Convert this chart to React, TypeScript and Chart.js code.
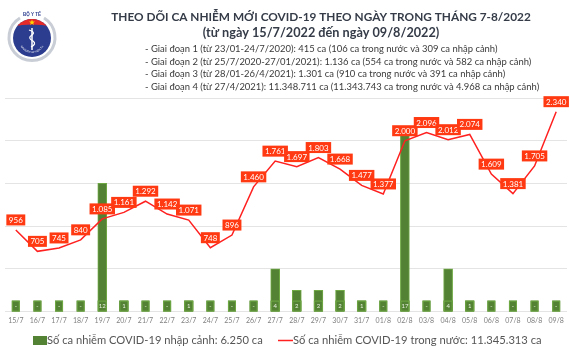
import React, { useEffect, useRef } from "react";
import { Chart, registerables } from "chart.js";

Chart.register(...registerables);

const categories = [
  "15/7", "16/7", "17/7", "18/7", "19/7", "20/7", "21/7", "22/7", "23/7", "24/7",
  "25/7", "26/7", "27/7", "28/7", "29/7", "30/7", "31/7", "01/8", "02/8", "03/8",
  "04/8", "05/8", "06/8", "07/8", "08/8", "09/8",
];
const domesticCases = [
  956, 705, 745, 840, 1085, 1161, 1292, 1142, 1071, 748,
  896, 1460, 1761, 1697, 1803, 1668, 1477, 1377, 2000, 2096,
  2012, 2074, 1609, 1381, 1705, 2340,
];
// 0 = "-" (no imported cases)
const importedCases = [
  0, 0, 0, 0, 12, 1, 0, 0, 1, 0,
  0, 0, 4, 2, 2, 2, 1, 0, 17, 0,
  4, 1, 0, 0, 0, 0,
];
const lineAxisTicks = { min: 0, max: 2500, step: 500 };
const barAxisTicks = { min: 0, max: 20 };

const titleText = "THEO DÕI CA NHIỄM MỚI COVID-19 THEO NGÀY TRONG THÁNG 7-8/2022";
const subtitleText = "(từ ngày 15/7/2022 đến ngày 09/8/2022)";
const stageLines = [
  "- Giai đoạn 1 (từ 23/01-24/7/2020): 415 ca (106 ca trong nước và 309 ca nhập cảnh)",
  "- Giai đoạn 2 (từ 25/7/2020-27/01/2021): 1.136 ca (554 ca trong nước và 582 ca nhập cảnh)",
  "- Giai đoạn 3 (từ 28/01-26/4/2021): 1.301 ca (910 ca trong nước và 391 ca nhập cảnh)",
  "- Giai đoạn 4 (từ 27/4/2021): 11.348.711 ca (11.343.743 ca trong nước và 4.968 ca nhập cảnh)",
];
const importedLegend = "Số ca nhiễm COVID-19 nhập cảnh: 6.250 ca";
const domesticLegend = "Số ca nhiễm COVID-19 trong nước: 11.345.313 ca";

const FONT = "Lato, 'Open Sans', sans-serif";
const BAR_FILL = "#548235";
const BAR_EDGE = "#6fa944";
const LINE_COLOR = "#ff2020";
const LABEL_BG = "#ff3a12";

function fmt(n: number): string {
  if (n >= 1000) return `${Math.floor(n / 1000)}.${String(n % 1000).padStart(3, "0")}`;
  return String(n);
}

function fitSize(ctx: CanvasRenderingContext2D, text: string, width: number, weight: string): number {
  ctx.font = `${weight} 100px ${FONT}`;
  const w = ctx.measureText(text).width;
  return (100 * width) / w;
}

const overlayPlugin = {
  id: "overlay",
  afterDatasetsDraw(chart: any) {
    const ctx: CanvasRenderingContext2D = chart.ctx;
    ctx.save();
    // bar labels (bottom of bars)
    const barMeta = chart.getDatasetMeta(0);
    const baseY = chart.scales.y1.getPixelForValue(0);
    barMeta.data.forEach((el: any, i: number) => {
      const v = importedCases[i];
      const txt = v ? String(v) : "-";
      const w = v ? 9 : 8;
      const h = 11;
      ctx.fillStyle = BAR_FILL;
      ctx.fillRect(el.x - w / 2, baseY - h, w, h);
      ctx.strokeStyle = BAR_EDGE;
      ctx.lineWidth = 1;
      ctx.strokeRect(el.x - w / 2 + 0.5, baseY - h + 0.5, w - 1, h - 1);
      ctx.fillStyle = "#e8f0e0";
      ctx.font = `6px ${FONT}`;
      ctx.textAlign = "center";
      ctx.textBaseline = "middle";
      ctx.fillText(txt, el.x, baseY - h / 2);
    });
    // line labels
    const lineMeta = chart.getDatasetMeta(1);
    lineMeta.data.forEach((el: any, i: number) => {
      const txt = fmt(domesticCases[i]);
      ctx.font = `8px ${FONT}`;
      const tw = ctx.measureText(txt).width;
      const w = tw + 5;
      const h = 11;
      const cy = el.y - 10;
      ctx.fillStyle = LABEL_BG;
      ctx.fillRect(el.x - w / 2, cy - h / 2, w, h);
      ctx.fillStyle = "#ffffff";
      ctx.textAlign = "center";
      ctx.textBaseline = "middle";
      ctx.fillText(txt, el.x, cy + 0.5);
    });
    ctx.restore();
  },
  afterDraw(chart: any) {
    const ctx: CanvasRenderingContext2D = chart.ctx;
    ctx.save();
    ctx.textBaseline = "middle";
    // title
    let s = fitSize(ctx, titleText, 420, "bold");
    ctx.font = `bold ${s}px ${FONT}`;
    ctx.fillStyle = "#353c48";
    ctx.textAlign = "center";
    ctx.fillText(titleText, 321, 17);
    s = fitSize(ctx, subtitleText, 237, "bold");
    ctx.font = `bold ${s}px ${FONT}`;
    ctx.fillText(subtitleText, 321, 33);
    // stage lines
    s = fitSize(ctx, stageLines[3], 395, "normal");
    ctx.font = `normal ${s}px ${FONT}`;
    ctx.fillStyle = "#3a3a3a";
    ctx.textAlign = "left";
    const ys = [49, 62, 74, 87];
    stageLines.forEach((t, i) => ctx.fillText(t, 145, ys[i]));
    // bottom legend
    ctx.fillStyle = BAR_FILL;
    ctx.fillRect(33, 336, 14, 9);
    s = fitSize(ctx, importedLegend, 216, "normal");
    ctx.font = `normal ${s}px ${FONT}`;
    ctx.fillStyle = "#555555";
    ctx.fillText(importedLegend, 47, 340);
    ctx.strokeStyle = LINE_COLOR;
    ctx.lineWidth = 1.5;
    ctx.beginPath();
    ctx.moveTo(278, 340.5);
    ctx.lineTo(293, 340.5);
    ctx.stroke();
    s = fitSize(ctx, domesticLegend, 249, "normal");
    ctx.font = `normal ${s}px ${FONT}`;
    ctx.fillText(domesticLegend, 293, 340);
    ctx.restore();
  },
};

function Logo() {
  return (
    <svg
      width={70}
      height={70}
      viewBox="0 0 70 70"
      style={{ position: "absolute", left: 0, top: 0 }}
    >
      <defs>
        <clipPath id="disk">
          <circle cx={32} cy={38} r={19} />
        </clipPath>
        <path id="bottomArc" d="M 19 40 A 13 13 0 0 0 45 40" />
      </defs>
      <path d="M 20 18 A 23 23 0 1 0 44 18" fill="none" stroke="#c9ced6" strokeWidth={3} />
      <circle cx={32} cy={38} r={19} fill="#2c3d8f" />
      <g clipPath="url(#disk)">
        <path d="M 10 18 L 54 18 L 54 27 Q 32 22 10 27 Z" fill="#e52a2a" />
      </g>
      <polygon points="32,19.5 32.8,21.6 35,21.6 33.2,22.9 33.9,25 32,23.7 30.1,25 30.8,22.9 29,21.6 31.2,21.6" fill="#ffd700" />
      <text x={32} y={16} textAnchor="middle" fontSize={4.5} fontWeight="bold" fill="#2c3d8f" fontFamily="Arial">BỘ Y TẾ</text>
      <line x1={32} y1={28} x2={32} y2={50} stroke="#ffffff" strokeWidth={1.5} />
      <path d="M 29 30 Q 36 32 32 35 Q 27 38 33 41 Q 37 44 31 47" fill="none" stroke="#ffffff" strokeWidth={1.3} />
      <text fontSize={2.6} fill="#ffffff" fontFamily="Arial">
        <textPath href="#bottomArc" startOffset="50%" textAnchor="middle">MINISTRY OF HEALTH</textPath>
      </text>
    </svg>
  );
}

export default function App() {
  const canvasRef = useRef<HTMLCanvasElement | null>(null);

  useEffect(() => {
    document.body.style.margin = "0";
    const canvas = canvasRef.current;
    if (!canvas) return;
    const chart = new Chart(canvas, {
      type: "bar",
      data: {
        labels: categories,
        datasets: [
          {
            type: "bar",
            label: importedLegend,
            data: importedCases,
            yAxisID: "y1",
            backgroundColor: BAR_FILL,
            borderColor: BAR_EDGE,
            borderWidth: 1,
            barThickness: 9,
            order: 2,
          } as any,
          {
            type: "line",
            label: domesticLegend,
            data: domesticCases,
            yAxisID: "y",
            borderColor: LINE_COLOR,
            borderWidth: 1.5,
            pointRadius: 0,
            tension: 0,
            fill: false,
            order: 1,
          } as any,
        ],
      },
      options: {
        responsive: false,
        animation: false,
        layout: { padding: { top: 98, left: 5, right: 3, bottom: 20 } },
        plugins: {
          legend: { display: false },
          tooltip: { enabled: false },
          title: { display: false },
        },
        scales: {
          x: {
            grid: { display: false, drawTicks: false },
            border: { display: false },
            ticks: {
              font: { size: 7, family: FONT },
              color: "#7f7f7f",
              padding: 5,
              maxRotation: 0,
              autoSkip: false,
            },
          },
          y: {
            position: "left",
            min: lineAxisTicks.min,
            max: lineAxisTicks.max,
            ticks: { display: false, stepSize: lineAxisTicks.step },
            grid: { color: "#e4e4e4", drawTicks: false },
            border: { display: false },
          },
          y1: {
            position: "right",
            min: barAxisTicks.min,
            max: barAxisTicks.max,
            display: false,
          },
        },
      },
      plugins: [overlayPlugin],
    });
    return () => chart.destroy();
  }, []);

  return (
    <div style={{ position: "relative", width: 570, height: 350, background: "#ffffff" }}>
      <canvas ref={canvasRef} width={570} height={350} style={{ display: "block" }} />
      <Logo />
    </div>
  );
}
